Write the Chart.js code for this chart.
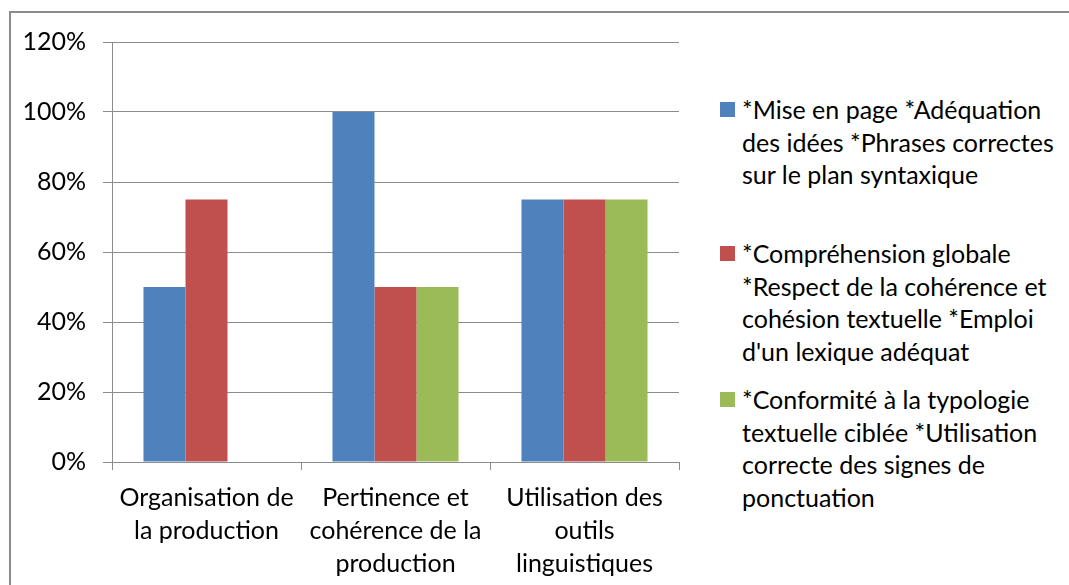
<!DOCTYPE html>
<html lang="fr">
<head>
<meta charset="utf-8">
<script src="https://cdn.jsdelivr.net/npm/chart.js@4.4.1/dist/chart.umd.min.js"></script>
<style>
  html, body { margin: 0; padding: 0; background: #fff; }
  body { width: 1069px; height: 585px; position: relative; overflow: hidden; font-family: Lato, "Open Sans", sans-serif; }
  #frame { position: absolute; left: 9px; top: 11px; right: -5px; bottom: -5px; border-top: 2px solid #8c8c8c; border-left: 2px solid #8c8c8c; }
  #wrap { position: absolute; left: 0; top: 0; width: 690px; height: 585px; }
  #legend { position: absolute; left: 720px; top: 0; width: 345px; }
  .item { position: absolute; left: 0; font-size: 25px; line-height: 32.5px; color: #000; white-space: nowrap; }
  .item .sw { position: absolute; left: 0; top: 9px; width: 15px; height: 15px; }
  .item .txt { position: absolute; left: 22px; top: 0; }
</style>
</head>
<body>
<div id="frame"></div>
<div id="wrap"><canvas id="chart"></canvas></div>
<div id="legend"></div>
<script>
  // Catégories (libellés sur plusieurs lignes)
  const categories = [
    ["Organisation de", "la production"],
    ["Pertinence et", "cohérence de la", "production"],
    ["Utilisation des", "outils", "linguistiques"]
  ];

  // Séries : libellés découpés par ligne comme dans la légende
  const serieMiseEnPage = ["*Mise en page *Adéquation", "des idées *Phrases correctes", "sur le plan syntaxique"];
  const serieComprehension = ["*Compréhension globale", "*Respect de la cohérence et", "cohésion textuelle *Emploi", "d'un lexique adéquat"];
  const serieConformite = ["*Conformité à la typologie", "textuelle ciblée *Utilisation", "correcte des signes de", "ponctuation"];

  // Valeurs en %
  const valuesMiseEnPage = [50, 100, 75];
  const valuesComprehension = [75, 50, 75];
  const valuesConformite = [null, 50, 75];

  const yTicks = [0, 20, 40, 60, 80, 100, 120];

  const colors = ["#4F81BD", "#C0504D", "#9BBB59"];
  const series = [
    { lines: serieMiseEnPage, data: valuesMiseEnPage },
    { lines: serieComprehension, data: valuesComprehension },
    { lines: serieConformite, data: valuesConformite }
  ];

  const font = { family: "Lato, 'Open Sans', sans-serif", size: 25 };

  const chart = new Chart(document.getElementById("chart"), {
    type: "bar",
    data: {
      labels: categories,
      datasets: series.map((s, i) => ({
        label: s.lines.join(" "),
        data: s.data,
        backgroundColor: colors[i],
        borderWidth: 0,
        categoryPercentage: 0.667,
        barPercentage: 1
      }))
    },
    options: {
      responsive: true,
      maintainAspectRatio: false,
      animation: false,
      layout: { padding: { top: 42, right: 11, left: 0, bottom: 0 } },
      plugins: { legend: { display: false }, tooltip: { enabled: false } },
      scales: {
        x: {
          grid: { drawOnChartArea: false, drawTicks: true, tickLength: 8, color: "#8c8c8c", offset: true },
          border: { color: "#8c8c8c", width: 1 },
          ticks: { color: "#000", font: { ...font, lineHeight: 1.32 }, padding: 11, maxRotation: 0, autoSkip: false },
          afterFit: (scale) => { scale.height = 123; }
        },
        y: {
          min: 0,
          max: 120,
          afterBuildTicks: (scale) => { scale.ticks = yTicks.map(v => ({ value: v })); },
          grid: { color: "#8c8c8c", lineWidth: 1, tickLength: 9 },
          border: { color: "#8c8c8c", width: 1 },
          ticks: { color: "#000", font, padding: 17, callback: v => v + "%" },
          afterFit: (scale) => { scale.width = 112; }
        }
      }
    }
  });

  // Légende à droite, texte réel sur plusieurs lignes
  const legendTops = [93, 237, 383];
  const legend = document.getElementById("legend");
  series.forEach((s, i) => {
    const item = document.createElement("div");
    item.className = "item";
    item.style.top = legendTops[i] + "px";
    item.innerHTML = `<span class="sw" style="background:${colors[i]}"></span><span class="txt">${s.lines.join("<br>")}</span>`;
    legend.appendChild(item);
  });
</script>
</body>
</html>
